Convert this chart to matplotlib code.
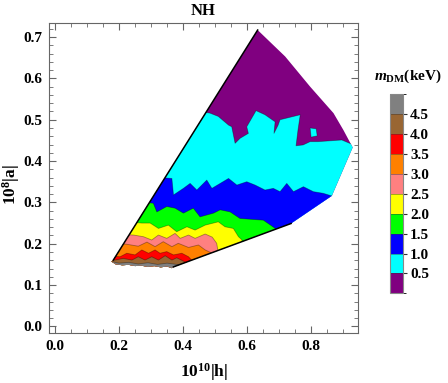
import matplotlib
matplotlib.use("Agg")
import matplotlib.pyplot as plt
from matplotlib.patches import Polygon
from matplotlib.colors import ListedColormap, BoundaryNorm
from matplotlib.ticker import MultipleLocator
import matplotlib.colorbar as mcolorbar

plt.rcParams['font.family'] = 'Liberation Serif'
plt.rcParams['font.weight'] = 'bold'
plt.rcParams['mathtext.fontset'] = 'custom'
plt.rcParams['mathtext.rm'] = 'Liberation Serif:bold'
plt.rcParams['mathtext.it'] = 'Liberation Serif:italic:bold'
plt.rcParams['mathtext.bf'] = 'Liberation Serif:bold'

# outline of the allowed region (10^10|h|, 10^8|a|)
hull_x = [0.182, 0.633, 0.719, 0.797, 0.870, 0.901, 0.930, 0.865, 0.7375,
          0.370, 0.365, 0.35, 0.33, 0.31, 0.29, 0.27, 0.25, 0.23, 0.21, 0.19, 0.176]
hull_y = [0.1605, 0.717, 0.653, 0.580, 0.516, 0.475, 0.433, 0.316, 0.249,
          0.144, 0.141, 0.145, 0.143, 0.146, 0.144, 0.147, 0.146, 0.149, 0.148, 0.150, 0.157]

# contour boundaries m_DM = 0.5 ... 4.5 keV (region below each line has larger m_DM)
b05_x = [0.45, 0.484, 0.510, 0.542, 0.552, 0.5625, 0.578, 0.604, 0.599, 0.628, 0.656,
         0.6875, 0.684, 0.697, 0.703, 0.766, 0.759, 0.753, 0.775, 0.797, 0.822, 0.896, 0.96]
b05_y = [0.520, 0.516, 0.508, 0.487, 0.483, 0.443, 0.455, 0.467, 0.483, 0.522, 0.512,
         0.495, 0.467, 0.487, 0.500, 0.512, 0.475, 0.437, 0.439, 0.447, 0.447, 0.451, 0.430]
b10_x = [0.33, 0.365, 0.370, 0.401, 0.422, 0.443, 0.474, 0.490, 0.516, 0.542, 0.568,
         0.599, 0.625, 0.656, 0.682, 0.703, 0.724, 0.745, 0.776, 0.807, 0.838, 0.88]
b10_y = [0.360, 0.358, 0.318, 0.334, 0.346, 0.330, 0.354, 0.334, 0.346, 0.358, 0.342,
         0.350, 0.342, 0.330, 0.334, 0.326, 0.346, 0.326, 0.338, 0.326, 0.322, 0.312]
b15_x = [0.28, 0.307, 0.318, 0.349, 0.375, 0.401, 0.432, 0.453, 0.495, 0.516, 0.547,
         0.578, 0.651, 0.688, 0.70]
b15_y = [0.300, 0.298, 0.277, 0.290, 0.286, 0.274, 0.286, 0.265, 0.274, 0.282, 0.277,
         0.261, 0.257, 0.237, 0.225]
b20_x = [0.24, 0.271, 0.297, 0.323, 0.354, 0.380, 0.412, 0.4375, 0.469, 0.510, 0.531,
         0.557, 0.573, 0.583, 0.59]
b20_y = [0.252, 0.250, 0.250, 0.237, 0.245, 0.229, 0.241, 0.233, 0.245, 0.253, 0.241,
         0.237, 0.217, 0.210, 0.195]
b25_x = [0.22, 0.245, 0.276, 0.302, 0.323, 0.349, 0.375, 0.391, 0.417, 0.4375, 0.469,
         0.491, 0.505, 0.510, 0.512]
b25_y = [0.222, 0.221, 0.217, 0.209, 0.221, 0.213, 0.225, 0.213, 0.221, 0.213, 0.2235,
         0.216, 0.201, 0.1775, 0.170]
b30_x = [0.205, 0.222, 0.260, 0.287, 0.3125, 0.338, 0.365, 0.385, 0.417, 0.448, 0.469,
         0.491, 0.495]
b30_y = [0.199, 0.199, 0.194, 0.204, 0.193, 0.205, 0.193, 0.201, 0.191, 0.197, 0.185,
         0.177, 0.165]
b35_x = [0.18, 0.203, 0.224, 0.250, 0.271, 0.292, 0.3125, 0.328, 0.349, 0.370, 0.396,
         0.417, 0.432, 0.435]
b35_y = [0.170, 0.1685, 0.177, 0.173, 0.185, 0.177, 0.185, 0.177, 0.181, 0.173, 0.177,
         0.1685, 0.156, 0.150]
b40_x = [0.17, 0.1875, 0.213, 0.240, 0.260, 0.281, 0.302, 0.323, 0.344, 0.365, 0.380,
         0.401, 0.417, 0.42]
b40_y = [0.161, 0.1605, 0.1646, 0.1605, 0.1685, 0.1605, 0.1685, 0.1605, 0.171, 0.1605,
         0.166, 0.158, 0.151, 0.145]
b45_x = [0.17, 0.20, 0.23, 0.26, 0.29, 0.32, 0.35, 0.38, 0.40, 0.40]
b45_y = [0.158, 0.153, 0.155, 0.151, 0.154, 0.150, 0.153, 0.150, 0.148, 0.140]

bounds_x = [b05_x, b10_x, b15_x, b20_x, b25_x, b30_x, b35_x, b40_x, b45_x]
bounds_y = [b05_y, b10_y, b15_y, b20_y, b25_y, b30_y, b35_y, b40_y, b45_y]

# small cyan island inside the purple zone
island_x = [0.797, 0.816, 0.819, 0.800]
island_y = [0.480, 0.478, 0.461, 0.458]

levels = [0.5, 1.0, 1.5, 2.0, 2.5, 3.0, 3.5, 4.0, 4.5]
band_colors = ['#800080', '#00ffff', '#0000ff', '#00ff00', '#ffff00',
               '#ff8080', '#ff8000', '#ff0000', '#996633', '#808080']

fig = plt.figure(figsize=(4.48, 3.83), dpi=100)
ax = fig.add_axes([0.1094, 0.1305, 0.690, 0.8094])

hull = Polygon(list(zip(hull_x, hull_y)), closed=True, facecolor=band_colors[0],
               edgecolor='none', zorder=1)
ax.add_patch(hull)

for xs, ys, col in zip(bounds_x, bounds_y, band_colors[1:]):
    px = [-1] + xs + [xs[-1], -1]
    py = [ys[0]] + ys + [-1, -1]
    patch = ax.fill(px, py, color=col, lw=0, zorder=2)[0]
    patch.set_clip_path(hull)
    ln, = ax.plot(xs, ys, color='k', alpha=0.35, lw=0.6, zorder=3)
    ln.set_clip_path(hull)

ax.fill(island_x, island_y, facecolor=band_colors[1], edgecolor='#00000059', lw=0.6, zorder=3)

# black edges of the region
ax.plot([hull_x[0], hull_x[1]], [hull_y[0], hull_y[1]], color='k', lw=1.1, zorder=4)
ax.plot([hull_x[9], hull_x[8]], [hull_y[9], hull_y[8]], color='k', lw=1.1, zorder=4)

ax.set_xlim(-0.019, 0.947)
ax.set_ylim(-0.016, 0.734)
ax.set_xticks([0.0, 0.2, 0.4, 0.6, 0.8])
ax.set_yticks([0.0, 0.1, 0.2, 0.3, 0.4, 0.5, 0.6, 0.7])
ax.xaxis.set_minor_locator(MultipleLocator(0.05))
ax.yaxis.set_minor_locator(MultipleLocator(0.02))
ax.tick_params(which='both', direction='in', top=True, right=True, color='#666666',
               labelsize=11, pad=5)
ax.tick_params(which='major', length=5)
ax.tick_params(which='minor', length=3)
for lab in ax.get_xticklabels() + ax.get_yticklabels():
    lab.set_fontweight('bold')
for sp in ax.spines.values():
    sp.set_color('#666666')

ax.set_title('NH', fontsize=12, fontweight='bold', pad=6)
ax.set_xlabel(r'$10^{10}$|h|', fontsize=12.5, fontweight='bold')
ax.set_ylabel(r'$10^{8}$|a|', fontsize=12.5, fontweight='bold')
ax.xaxis.set_label_coords(0.5, -0.09)
ax.yaxis.set_label_coords(-0.088, 0.48)

# legend bar
cax = fig.add_axes([0.8705, 0.234, 0.0297, 0.520])
cmap = ListedColormap(band_colors)
norm = BoundaryNorm([0.0] + levels + [5.0], cmap.N)
cb = mcolorbar.ColorbarBase(cax, cmap=cmap, norm=norm, ticks=levels, drawedges=True)
cb.outline.set_edgecolor('#888888')
cb.outline.set_linewidth(0.8)
cb.dividers.set_color('#333333')
cb.dividers.set_alpha(0.5)
cb.dividers.set_linewidth(0.6)
cax.tick_params(length=3, width=0.8, color='#333333', labelsize=11, pad=2)
cax.set_yticklabels(['%.1f' % v for v in levels], fontweight='bold')
fig.text(0.911, 0.80, r'$m_{\mathrm{DM}}$(keV)', fontsize=11, fontweight='bold',
         ha='center', va='center')

fig.savefig('out.png', dpi=100)
